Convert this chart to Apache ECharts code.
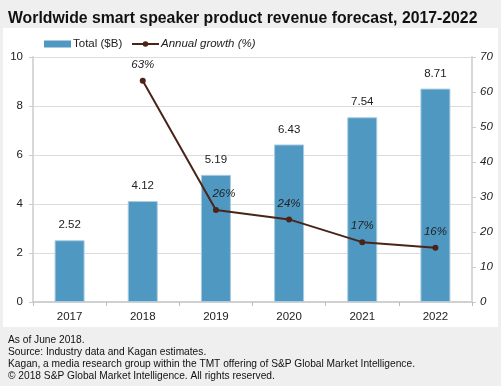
<!DOCTYPE html>
<html><head><meta charset="utf-8">
<script src="https://cdn.jsdelivr.net/npm/echarts@6/dist/echarts.min.js"></script>
<style>html,body{margin:0;padding:0;background:#efefef;}#c{width:501px;height:386px;}</style>
</head><body><div id="c"></div>
<script>
const years = ['2017','2018','2019','2020','2021','2022'];
const totalRevenue = [2.52, 4.12, 5.19, 6.43, 7.54, 8.71];
const annualGrowth = [null, 63.2, 26.3, 23.6, 17.1, 15.5];
const leftTicks = {min: 0, max: 10, interval: 2};
const rightTicks = {min: 0, max: 70, interval: 10};
const footnotes = [
  'As of June 2018.',
  'Source: Industry data and Kagan estimates.',
  'Kagan, a media research group within the TMT offering of S&P Global Market Intelligence.',
  '\u00A9 2018 S&P Global Market Intelligence. All rights reserved.'
];
const FONT = 'Liberation Sans';
const chart = echarts.init(document.getElementById('c'), null, {renderer: 'canvas'});
chart.setOption({
  backgroundColor: '#efefef',
  textStyle: {fontFamily: FONT},
  animation: false,
  title: {
    text: 'Worldwide smart speaker product revenue forecast, 2017-2022',
    left: 3, top: 6,
    textStyle: {fontFamily: FONT, fontSize: 15.8, fontWeight: 'bold', color: '#111'}
  },
  graphic: [
    {type: 'rect', z: -10, shape: {x: 3, y: 28, width: 495, height: 299}, style: {fill: '#ffffff'}},
    {type: 'text', left: 8, top: 334, style: {text: footnotes.join('\n'), font: '10.2px ' + FONT, fill: '#111', lineHeight: 12}}
  ],
  legend: [
    {left: 39, top: 33, itemWidth: 27, itemHeight: 7,
     textStyle: {fontSize: 11.5, color: '#222', padding: [0, 0, 0, -3]},
     data: [{name: 'Total ($B)', icon: 'rect', itemStyle: {borderWidth: 0, color: '#4f98c2'}}]},
    {left: 126, top: 33, itemWidth: 27, itemHeight: 7,
     textStyle: {fontSize: 11.5, color: '#222', fontStyle: 'italic', padding: [0, 0, 0, -3]},
     data: [{name: 'Annual growth (%)'}]}
  ],
  grid: {left: 33, right: 29, top: 57, bottom: 84},
  xAxis: {
    type: 'category', data: years,
    axisLine: {lineStyle: {color: '#d0d0d0', width: 2}},
    axisTick: {show: true, length: 4, lineStyle: {color: '#bbbbbb'}},
    axisLabel: {color: '#222', fontSize: 11.5, margin: 9}
  },
  yAxis: [
    {type: 'value', min: leftTicks.min, max: leftTicks.max, interval: leftTicks.interval,
     axisLine: {show: true, lineStyle: {color: '#d8d8d8', width: 2}},
     axisTick: {show: true, length: 4, lineStyle: {color: '#cccccc'}},
     splitLine: {lineStyle: {color: '#dcdcdc'}},
     axisLabel: {color: '#222', fontSize: 11.5, margin: 10}},
    {type: 'value', min: rightTicks.min, max: rightTicks.max, interval: rightTicks.interval,
     position: 'right',
     axisLine: {show: true, lineStyle: {color: '#d8d8d8', width: 2}},
     axisTick: {show: true, length: 4, lineStyle: {color: '#cccccc'}},
     splitLine: {show: false},
     axisLabel: {color: '#222', fontSize: 11.5, fontStyle: 'italic', margin: 8}}
  ],
  series: [
    {name: 'Total ($B)', type: 'bar', data: totalRevenue, barWidth: 30,
     itemStyle: {color: '#4f98c2', borderColor: '#a9cbe0', borderWidth: 1},
     label: {show: true, position: 'top', distance: 9, color: '#222', fontSize: 11.5,
       formatter: p => p.value.toFixed(2)}},
    {name: 'Annual growth (%)', type: 'line', yAxisIndex: 1, data: annualGrowth,
     symbol: 'circle', symbolSize: 6,
     lineStyle: {color: '#4a2418', width: 2},
     itemStyle: {color: '#4a2418'},
     label: {show: true, position: 'top', distance: 7, color: '#222', fontSize: 11.5, fontStyle: 'italic',
       formatter: p => Math.round(p.value) + '%'},
     labelLayout: p => p.dataIndex === 2 ? {dx: 8} : {}}
  ]
});
</script></body></html>
